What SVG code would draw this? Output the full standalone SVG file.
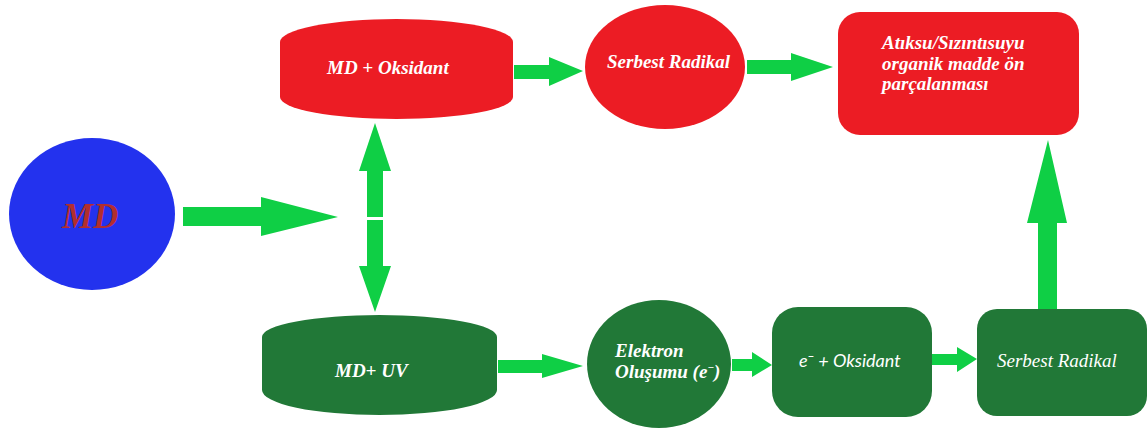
<svg xmlns="http://www.w3.org/2000/svg" width="1148" height="428" viewBox="0 0 1148 428">
<style>
.red{fill:#EC1C24}
.dg{fill:#217837}
.arr{fill:#0FCF45}
.t{font-family:"Liberation Serif","Times New Roman",serif;font-style:italic;font-weight:bold;font-size:19px;fill:#FFFFFF}
.tn{font-family:"Liberation Serif","Times New Roman",serif;font-style:italic;font-weight:normal;font-size:19px;fill:#FFFFFF}
.ts{font-family:Lato,"Open Sans",sans-serif;font-style:italic;font-size:18px;fill:#FFFFFF}
</style>
<rect width="1148" height="428" fill="#FFFFFF"/>
<g id="connectors">
<polygon class="arr" points="183,207 261,207 261,197 338,217 261,236 261,226 183,226"/>
<polygon class="arr" points="367,217 367,171 359,171 375,123 391,171 383,171 383,217"/>
<polygon class="arr" points="367,220 383,220 383,266 391,266 375,312 359,266 367,266"/>
<polygon class="arr" points="514,65 549,65 549,57 583,71 549,86 549,79 514,79"/>
<polygon class="arr" points="747,60 791,60 791,53 833,67 791,81 791,74 747,74"/>
<polygon class="arr" points="498,360 542,360 542,354 583,366 542,378 542,373 498,373"/>
<polygon class="arr" points="732,359 752,359 752,352 772,365 752,377 752,371 732,371"/>
<polygon class="arr" points="932,354 957,354 957,347 977,359 957,372 957,365 932,365"/>
<polygon class="arr" points="1038,309 1038,223 1027,223 1048,140 1067,223 1057,223 1057,309"/>
</g>
<g id="node-md">
<ellipse cx="92" cy="214" rx="83" ry="76" fill="#2332EE"/>
<text x="62" y="228" font-family="Liberation Serif,'Times New Roman',serif" font-style="italic" font-weight="bold" font-size="35" fill="#B22E2E">MD</text>
</g>
<g id="node-md-oksidant">
<path class="red" d="M280,42 A116.5,23 0 0 1 513,42 L513,97 A116.5,22 0 0 1 280,97 Z"/>
<text class="t" x="327" y="74">MD + Oksidant</text>
</g>
<g id="node-serbest-radikal-1">
<ellipse class="red" cx="665" cy="67" rx="80" ry="62"/>
<text class="t" x="607" y="68">Serbest Radikal</text>
</g>
<g id="node-atiksu">
<rect class="red" x="838" y="12" width="241" height="123" rx="22" ry="22"/>
<text class="t" x="882" y="49">Atıksu/Sızıntısuyu</text>
<text class="t" x="882" y="70">organik madde ön</text>
<text class="t" x="882" y="90">parçalanması</text>
</g>
<g id="node-md-uv">
<path class="dg" d="M262,337 A117.5,22 0 0 1 497,337 L497,390 A117.5,25 0 0 1 262,390 Z"/>
<text class="t" x="335" y="377">MD+ UV</text>
</g>
<g id="node-elektron">
<ellipse class="dg" cx="659" cy="364" rx="72" ry="64"/>
<text class="t" x="615" y="357">Elektron</text>
<text class="t" x="615" y="378">Oluşumu (e<tspan dy="-7" font-size="11">−</tspan><tspan dy="7">)</tspan></text>
</g>
<g id="node-e-oksidant">
<rect class="dg" x="772" y="307" width="160" height="110" rx="26" ry="26"/>
<text class="ts" x="799" y="367">e<tspan dy="-7" font-size="11">−</tspan><tspan dy="7"> + Oksidant</tspan></text>
</g>
<g id="node-serbest-radikal-2">
<rect class="dg" x="977" y="309" width="170" height="107" rx="20" ry="20"/>
<text class="tn" x="997" y="367">Serbest Radikal</text>
</g>
</svg>
